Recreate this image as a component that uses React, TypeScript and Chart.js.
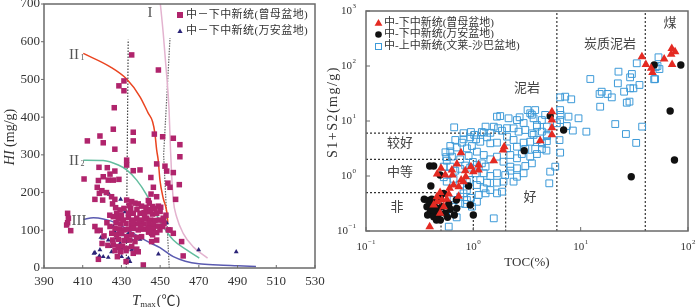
import React, { useEffect, useRef } from "react";
import { Chart, registerables } from "chart.js";
Chart.register(...registerables);

// ---------------- Left panel data (Tmax, HI) ----------------
const X_TICKS_L = [390, 410, 430, 450, 470, 490, 510, 530];
const Y_TICKS_L = [0, 100, 200, 300, 400, 500, 600, 700];

const ZENGMU_TMAX_HI: [number, number][] = [
  [435.3,565],[449.1,525],[431.3,496],[428.7,483],[431.3,470],[426.3,425],[425.8,368],[436.1,360],[447.0,355],[451.3,348],
  [456.8,344],[412.4,337],[418.9,350],[420.6,332],[436.1,337],[426.6,315],[460.2,327],[460.2,295],[432.7,286],[432.7,273],
  [452.5,270],[448.2,276],[418.4,267],[422.7,266],[439.6,260],[436.1,258],[426.6,257],[453.4,257],[456.8,253],[410.7,236],
  [424.1,249],[420.6,242],[418.1,232],[423.2,233],[425.8,233],[428.7,235],[445.2,240],[454.0,225],[455.1,214],[459.9,221],
  [417.5,214],[419.9,205],[422.3,200],[416.3,182],[418.6,198],[420.3,180],[426.6,182],[425.4,170],[424.9,189],[458.0,182],
  [446.5,214],[445.3,196],[448.2,189],[443.9,179],
  [432.7,180],[435.3,176],[437.0,172],[438.7,170],[440.4,164],[442.7,161],[444.4,172],[446.1,163],[447.3,158],[449.1,164],
  [450.3,161],[434.8,158],[431.3,158],[429.3,154],[427.5,145],[433.6,145],[436.1,145],[439.6,145],[441.7,147],[443.9,149],
  [446.1,143],[448.2,145],[425.8,136],[428.4,132],[431.0,127],[433.6,134],[435.3,127],[437.9,132],[440.4,127],[443.0,132],
  [445.1,127],[447.3,126],[449.6,127],[451.6,132],[427.2,120],[429.6,117],[432.4,118],[435.3,114],[437.5,117],[439.2,120],
  [441.7,117],[444.2,118],[446.5,114],[449.1,111],[451.3,110],[424.1,110],[426.7,105],[428.9,103],[431.3,101],[433.6,103],
  [436.1,105],[438.7,101],[441.3,103],[443.9,105],[446.5,103],[449.9,101],[455.1,101],[425.0,92],[427.5,88],[430.1,92],
  [432.7,83],[435.3,88],[437.9,81],[440.4,83],[445.6,92],[448.2,94],[456.8,92],[425.5,74],[428.4,76],[431.3,73],
  [434.1,74],[437.0,70],[445.6,70],[417.5,99],[425.8,61],[428.4,57],[430.6,58],[432.7,52],[435.3,57],[437.9,50],
  [426.7,46],[429.6,43],[432.4,46],[436.1,39],[438.7,43],[427.9,30],[418.1,23],[432.4,17],[441.3,8],[461.1,70],
  [461.9,32],[416.3,110],[402.2,145],[402.6,132],[402.2,120],[401.7,114],[403.8,99],[454.2,101],[448.2,74],[446.1,88],
  [422.5,120],[424,140],[419,100],[421,85],[423,60],[420,65],[434,165],[438,155],[442,140],[445,155],
  [430,140],[436,120],[440,110],[444,95],[427,160],[450,150],[452,118],[453,140]
];

const WANAN_TMAX_HI: [number, number][] = [
  [422,198],[423.7,195],[429.6,182],[415.8,39],[418.9,48],[418.6,32],[420.6,30],[423.2,28],[419.4,81],[423.2,74],
  [424.1,57],[424.9,43],[425.8,110],[426.6,96],[427.5,79],[429.3,65],[430.1,52],[431,88],[431.8,101],[433.6,92],
  [432.7,70],[434.4,57],[435.3,48],[431.8,149],[430.6,127],[436.1,52],[439.6,76],[449.1,37],[453.4,120],[469.9,48],
  [489.3,43],[425.8,74],[428,52],[430.1,30],[428.3,92],[425.5,61],[435.3,74],[433.6,26],[434.4,17],[420.3,79],[416.3,41]
];

// kerogen type curves
const CURVE_I: [number, number][] = [[449.9,711],[451.6,622],[453,534],[454.6,420],[455.3,320],[455.9,251],[456.8,180],[458.5,136],[461.9,92],[467.1,56],[474.5,26]];
const CURVE_II1: [number, number][] = [[410.3,569],[424,534],[432.7,501],[439.6,454],[443.9,410],[446.1,388],[447.3,357],[448.2,313],[449,286],[449.9,233],[451.6,185],[453.4,150],[454,120]];
const CURVE_II2: [number, number][] = [[410.3,286],[420.6,285],[428.4,273],[432.7,260],[437.9,233],[443,194],[447.3,149],[451.6,110],[456.8,74],[463.7,48],[470.2,26]];
const CURVE_III: [number, number][] = [[410.3,129],[415.5,133],[420.6,130],[427.5,119],[432.7,103],[439.6,81],[445.6,65],[449.9,54],[456.8,30],[463,18],[470,11],[480,8],[490,6],[499.5,4]];
const MATURITY_1: [number, number][] = [[432.5,0],[433.5,605]];
const MATURITY_2: [number, number][] = [[454.7,0],[451.8,300],[455.1,610]];

// ---------------- Right panel data (TOC, S1+S2) ----------------
const X_EXP_R = [-1, 0, 1, 2];
const Y_EXP_R = [-1, 0, 1, 2, 3];
const TOC_CLASS = [0.5, 1, 2];
const S_CLASS = [0.5, 2, 6];
const LITHO_TOC = [6, 40];

const ZENGMU_TOC_S: [number, number][] = [
  [37.2,148],[40.5,107],[45.4,91],[46.7,76],[60,134],[70.6,209],[75.8,182],[69.7,163],[71.1,107],
  [5.4,14.8],[5.4,10.4],[5.4,7.57],[5.4,5.65],[4.2,4.38],[1.94,3.41],[1.89,2.97],[1.55,1.9],[1.12,1.59],[1.12,1.29],
  [1.0,1.2],[0.95,1.48],[0.767,2.66],[0.703,1.65],[0.632,1.29],[0.5,1.38],[0.46,1.09],[0.548,1.04],[0.638,1.04],[0.841,1.25],
  [0.85,0.97],[0.81,0.79],[0.77,0.845],[0.654,0.686],[0.601,0.597],[0.73,0.64],[0.49,0.5],[0.458,0.42],[0.51,0.366],[0.565,0.377],
  [0.458,0.34],[0.427,0.297],[0.53,0.277],[0.49,0.21],[0.392,0.12],[0.59,0.47],[0.73,0.43]
];

const WANAN_TOC_S: [number, number][] = [
  [48.4,104],[85.7,104],[68.2,15.2],[74.8,1.95],[29.6,0.97],[6.94,6.86],[5.2,12.3],[2.98,2.89],[0.904,0.658],[0.935,0.297],
  [1.0,0.195],[0.392,1.52],[0.427,1.52],[0.402,0.66],[0.349,0.377],[0.41,0.377],[0.37,0.277],[0.41,0.297],[0.458,0.258],[0.397,0.225],
  [0.375,0.195],[0.427,0.182],[0.472,0.204],[0.51,0.277],[0.493,0.158],[0.453,0.158],[0.59,0.31],[0.548,0.21],[0.61,0.248],[0.70,0.258],
  [0.575,0.177],[0.665,0.195],[0.695,0.366],[0.53,0.484],[0.493,0.42],[0.382,0.36],[0.44,0.34],[0.462,0.21],[0.42,0.24],[0.49,1.04]
];

const BRUNEI_TOC_S: [number, number][] = [
  [53.1,144],[54.2,88],[48.4,57.3],[33.3,112],[30,71.6],[28.9,62.2],[35.3,45.2],[31,39.3],[28.9,39.3],[25.4,34.1],
  [28.5,22.5],[26.9,21.5],[22.5,78.9],[22.2,48.4],[12.3,58],[15,31],[15.7,34.1],[17.8,31],[19.5,26.9],[15.2,18.2],
  [21,8.8],[26.4,5.8],[37.4,7.9],[32.9,4.0],[11.3,6.4],[6.44,26.9],[7.18,27.7],[8.17,24.8],[6.44,15.8],[6.5,12.9],
  [7.7,12],[9.55,11.2],[8.45,6.7],[7.43,8.1],[6.44,10.4],[6.0,9.1],[6.35,4.5],[6.44,2.66],[5.8,1.48],[5.2,1.2],
  [5.1,0.736],[49.4,58],[50,95],[52,100],
  [3.39,13.8],[3.77,15.8],[3.64,11.2],[4.35,10.4],[4.67,12.9],[4.35,6.4],[4.84,7.9],[3.91,8.45],[3.51,5.97],[3.05,6.86],
  [2.64,6.4],[2.37,4.52],[2.06,5.19],[1.78,12.3],[2.13,11.2],[2.37,7.36],[1.85,6.66],[1.55,7.88],[1.34,5.05],[1.25,6.14],
  [1.06,4.64],[0.935,5.05],[0.81,4.64],[0.663,7.67],[0.679,4.52],[0.61,3.51],[0.783,4.04],[0.871,3.18],[0.97,3.51],[1.16,4.2],
  [1.44,3.93],[1.66,4.04],[2.06,3.18],[2.55,3.41],[2.94,4.04],[3.39,4.2],[3.91,4.52],[4.35,3.93],[4.84,5.56],
  [2.21,2.41],[2.55,2.1],[2.83,2.51],[3.39,2.25],[3.91,2.51],[3.51,1.7],[3.05,1.52],[2.55,1.38],[2.21,1.48],[1.91,1.82],
  [1.66,2.25],[1.44,2.01],[1.25,2.41],[1.08,2.77],[0.904,2.31],[0.755,2.01],[0.632,2.25],[0.565,1.9],[0.53,1.48],[0.61,1.48],
  [0.679,1.25],[1.25,1.12],[1.44,1.0],[1.66,1.12],[1.98,1.04],[2.21,1.25],[2.55,0.97],[2.94,1.12],[1.66,0.757],[1.91,0.79],
  [2.37,0.79],[1.34,0.757],[1.16,0.845],[1.08,0.686],[1.25,0.597],[1.44,0.556],[1.85,0.519],[1.66,0.484],[1.3,0.484],[1.12,0.452],
  [0.871,0.556],[0.81,0.484],[0.755,0.42],[0.871,0.366],[0.755,0.318],[0.654,0.366],[0.632,0.297],[0.565,0.258],[0.645,0.21],[0.70,0.177],
  [0.59,0.12],[1.55,0.17],[0.84,0.31],[0.95,0.40],[1.08,0.34],[0.97,0.277],[0.87,0.79],[0.565,0.79],[0.654,0.89],[0.755,0.70],
  [0.53,0.95],[0.59,1.10],[0.755,1.35],[0.84,1.55],[0.935,1.42],[0.99,1.8],[0.61,2.8],[0.70,3.3],[0.56,2.2],[0.55,2.7],
  [0.81,6.0],[0.95,6.3],[1.02,5.6],[1.20,6.3],[1.30,7.9],[1.44,6.1],[1.70,7.4],[2.06,7.4],[1.66,12],[2.55,10.4],
  [2.70,11.7],[2.94,9.2],[3.2,15.8],[3.51,13],[3.91,7.9],[4.84,5.3],[4.84,4.3],[4.8,2.9],[4.35,3.1],[3.77,3.1],
  [3.05,3.1],[3.64,5.6],[1.08,1.6],[1.2,1.7],[1.3,1.48],[0.92,0.85],[1.05,1.12]
];

const LEGEND_L = ["中－下中新统(曾母盆地)", "中－下中新统(万安盆地)"];
const LEGEND_R = ["中-下中新统(曾母盆地)", "中-下中新统(万安盆地)", "中-上中新统(文莱-沙巴盆地)"];

const SERIF = '"Liberation Serif","Times New Roman","Noto Sans CJK SC",serif';

const C_PINK = "#b0246c";
const C_NAVY = "#2b2478";
const C_RED = "#e42a22";
const C_BLACK = "#111111";
const C_BLUE = "#3d9ad8";

const toXY = (arr: [number, number][]) => arr.map(([x, y]) => ({ x, y }));

function triangle(ctx: CanvasRenderingContext2D, x: number, y: number, r: number, color: string) {
  ctx.beginPath();
  ctx.moveTo(x, y - r);
  ctx.lineTo(x + r * 0.87, y + r * 0.5);
  ctx.lineTo(x - r * 0.87, y + r * 0.5);
  ctx.closePath();
  ctx.fillStyle = color;
  ctx.fill();
}

const leftDecor = {
  id: "leftDecor",
  afterDraw(chart: any) {
    const { ctx, chartArea: a, scales } = chart;
    const x = scales.x, y = scales.y;
    ctx.save();
    ctx.strokeStyle = "#6a6a6a";
    ctx.lineWidth = 1.5;
    ctx.strokeRect(a.left, a.top, a.right - a.left, a.bottom - a.top);
    ctx.lineWidth = 1;
    ctx.fillStyle = "#333";
    ctx.font = `13px ${SERIF}`;
    ctx.textAlign = "center";
    ctx.textBaseline = "middle";
    for (const v of X_TICKS_L) {
      const px = x.getPixelForValue(v);
      ctx.beginPath(); ctx.moveTo(px, a.bottom); ctx.lineTo(px, a.bottom - 3); ctx.stroke();
      ctx.fillText(String(v), px, a.bottom + 14);
    }
    ctx.textAlign = "right";
    for (const v of Y_TICKS_L) {
      const py = y.getPixelForValue(v);
      ctx.beginPath(); ctx.moveTo(a.left - 3, py); ctx.lineTo(a.left, py); ctx.stroke();
      ctx.fillText(String(v), a.left - 4, py);
    }
    // y title
    ctx.save();
    ctx.translate(10, 137);
    ctx.rotate(-Math.PI / 2);
    ctx.font = `italic 14px ${SERIF}`;
    const w1 = ctx.measureText("HI").width;
    ctx.font = `14px ${SERIF}`;
    const w2 = ctx.measureText(" (mg/g)").width;
    const sx = -(w1 + w2) / 2;
    ctx.textAlign = "left";
    ctx.font = `italic 14px ${SERIF}`;
    ctx.fillText("HI", sx, 0);
    ctx.font = `14px ${SERIF}`;
    ctx.fillText(" (mg/g)", sx + w1, 0);
    ctx.restore();
    // x title
    ctx.textAlign = "left";
    ctx.textBaseline = "alphabetic";
    let tx = 132;
    ctx.font = `italic 15px ${SERIF}`;
    ctx.fillText("T", tx, 305); tx += ctx.measureText("T").width;
    ctx.font = `9px ${SERIF}`;
    ctx.fillText("max", tx, 307); tx += ctx.measureText("max").width + 1;
    ctx.font = `14px ${SERIF}`;
    ctx.fillText("(℃)", tx, 305);
    // curve labels
    ctx.fillStyle = "#555";
    ctx.font = `15px ${SERIF}`;
    ctx.textBaseline = "middle";
    ctx.textAlign = "center";
    ctx.fillText("I", 150, 13);
    ctx.fillText("II", 74, 55);
    ctx.fillText("II", 74, 161);
    ctx.fillText("III", 79, 221);
    ctx.font = `8px ${SERIF}`;
    ctx.fillText("1", 82.5, 58);
    ctx.fillText("2", 82.5, 164);
    // legend
    ctx.fillStyle = C_PINK;
    ctx.fillRect(177, 12, 6, 6);
    triangle(ctx, 180, 31.5, 3, C_NAVY);
    ctx.fillStyle = "#333";
    ctx.font = `11px ${SERIF}`;
    (ctx as any).letterSpacing = "0.4px";
    ctx.textAlign = "left";
    ctx.fillText(LEGEND_L[0], 186, 15.5);
    ctx.fillText(LEGEND_L[1], 186, 31);
    ctx.restore();
  },
};

function drawPow(ctx: CanvasRenderingContext2D, exp: number, x: number, y: number, align: "center" | "right") {
  const base = "10";
  const sup = exp < 0 ? "−" + Math.abs(exp) : String(exp);
  ctx.font = `11px ${SERIF}`;
  const wb = ctx.measureText(base).width;
  ctx.font = `7px ${SERIF}`;
  const ws = ctx.measureText(sup).width;
  const total = wb + ws + 0.5;
  const left = align === "center" ? x - total / 2 : x - total;
  ctx.textAlign = "left";
  ctx.textBaseline = "middle";
  ctx.font = `11px ${SERIF}`;
  ctx.fillText(base, left, y);
  ctx.font = `7px ${SERIF}`;
  ctx.fillText(sup, left + wb + 0.5, y - 4.5);
}

const rightDecor = {
  id: "rightDecor",
  afterDraw(chart: any) {
    const { ctx, chartArea: a, scales } = chart;
    const x = scales.x, y = scales.y;
    ctx.save();
    ctx.strokeStyle = "#6a6a6a";
    ctx.lineWidth = 1.5;
    ctx.strokeRect(a.left, a.top, a.right - a.left, a.bottom - a.top);
    ctx.lineWidth = 1;
    ctx.fillStyle = "#333";
    for (const e of X_EXP_R) {
      const px = x.getPixelForValue(Math.pow(10, e));
      ctx.beginPath(); ctx.moveTo(px, a.bottom); ctx.lineTo(px, a.bottom - 4); ctx.stroke();
      drawPow(ctx, e, px, a.bottom + 16, "center");
    }
    for (const e of Y_EXP_R) {
      const py = y.getPixelForValue(Math.pow(10, e));
      ctx.beginPath(); ctx.moveTo(a.left, py); ctx.lineTo(a.left + 4, py); ctx.stroke();
      drawPow(ctx, e, a.left - 10, py, "right");
    }
    // titles
    ctx.textAlign = "center";
    ctx.textBaseline = "middle";
    ctx.font = `13px ${SERIF}`;
    ctx.fillText("TOC(%)", (a.left + a.right) / 2, 263);
    ctx.save();
    ctx.translate(13, 112);
    ctx.rotate(-Math.PI / 2);
    ctx.font = `14px ${SERIF}`;
    (ctx as any).letterSpacing = "1.5px";
    ctx.fillText("S1+S2(mg/g)", 0, 0);
    ctx.restore();
    // region labels
    ctx.fillStyle = "#444";
    ctx.font = `13px ${SERIF}`;
    ctx.fillText("较好", 80, 144);
    ctx.fillText("中等", 80, 173);
    ctx.fillText("非", 77, 208);
    ctx.fillText("好", 210, 198);
    ctx.fillText("泥岩", 207, 89);
    ctx.fillText("炭质泥岩", 290, 45);
    ctx.fillText("煤", 350, 24);
    // legend
    triangle(ctx, 58.5, 23.5, 4.5, C_RED);
    ctx.beginPath(); ctx.arc(58.5, 34.5, 3.3, 0, Math.PI * 2); ctx.fillStyle = C_BLACK; ctx.fill();
    ctx.strokeStyle = C_BLUE; ctx.lineWidth = 1;
    ctx.strokeRect(55.5, 43.5, 6, 6);
    ctx.fillStyle = "#333";
    ctx.font = `11px ${SERIF}`;
    ctx.textAlign = "left";
    ctx.fillText(LEGEND_R[0], 64, 23);
    ctx.fillText(LEGEND_R[1], 64, 34.5);
    ctx.fillText(LEGEND_R[2], 64, 46.5);
    ctx.restore();
  },
};

function lineDs(data: [number, number][], color: string, opts: any = {}) {
  return {
    type: "line",
    data: toXY(data),
    borderColor: color,
    backgroundColor: color,
    borderWidth: 1.5,
    pointRadius: 0,
    showLine: true,
    fill: false,
    ...opts,
  };
}

export default function App() {
  const leftRef = useRef<HTMLCanvasElement>(null);
  const rightRef = useRef<HTMLCanvasElement>(null);

  useEffect(() => {
    const left = new Chart(leftRef.current as HTMLCanvasElement, {
      type: "scatter",
      data: {
        datasets: [
          { data: toXY(ZENGMU_TMAX_HI), pointStyle: "rect", pointRadius: 3.9, backgroundColor: C_PINK, borderColor: C_PINK, borderWidth: 0 },
          { data: toXY(WANAN_TMAX_HI), pointStyle: "triangle", pointRadius: 2.8, backgroundColor: C_NAVY, borderColor: C_NAVY, borderWidth: 0 },
          lineDs(CURVE_I, "#e3b3cf", { cubicInterpolationMode: "monotone" }),
          lineDs(CURVE_II1, "#ea4420", { cubicInterpolationMode: "monotone" }),
          lineDs(CURVE_II2, "#62bd9e", { cubicInterpolationMode: "monotone" }),
          lineDs(CURVE_III, "#5a5ab0", { cubicInterpolationMode: "monotone" }),
          lineDs(MATURITY_1, "#444", { borderWidth: 1.2, borderDash: [1.5, 1.5] }),
          lineDs(MATURITY_2, "#666", { borderWidth: 1.2, borderDash: [1.5, 1.2] }),
        ] as any,
      },
      options: {
        animation: false,
        responsive: false,
        maintainAspectRatio: false,
        layout: { padding: { left: 44, right: 25, top: 4, bottom: 39 } },
        scales: {
          x: { type: "linear", min: 390, max: 530, display: false },
          y: { type: "linear", min: 0, max: 700, display: false },
        },
        plugins: { legend: { display: false }, tooltip: { enabled: false } },
      },
      plugins: [leftDecor],
    });

    const dashed = { borderWidth: 1.2, borderDash: [2, 2], borderColor: "#333" };
    const classLines = TOC_CLASS.map((t, i) =>
      lineDs([[0.1, S_CLASS[i]], [t, S_CLASS[i]], [t, 0.1]], "#333", dashed)
    );
    const lithoLines = LITHO_TOC.map((t) => lineDs([[t, 0.1], [t, 1000]], "#333", dashed));

    const right = new Chart(rightRef.current as HTMLCanvasElement, {
      type: "scatter",
      data: {
        datasets: [
          { data: toXY(ZENGMU_TOC_S), pointStyle: "triangle", pointRadius: 5, backgroundColor: C_RED, borderColor: C_RED, borderWidth: 0 },
          { data: toXY(WANAN_TOC_S), pointStyle: "circle", pointRadius: 3.7, backgroundColor: C_BLACK, borderColor: C_BLACK, borderWidth: 0 },
          { data: toXY(BRUNEI_TOC_S), pointStyle: "rect", pointRadius: 4.8, backgroundColor: "rgba(255,255,255,0)", borderColor: C_BLUE, borderWidth: 1 },
          ...classLines,
          ...lithoLines,
        ] as any,
      },
      options: {
        animation: false,
        responsive: false,
        maintainAspectRatio: false,
        layout: { padding: { left: 46, right: 12, top: 11, bottom: 76 } },
        scales: {
          x: { type: "logarithmic", min: 0.1, max: 100, display: false },
          y: { type: "logarithmic", min: 0.1, max: 1000, display: false },
        },
        plugins: { legend: { display: false }, tooltip: { enabled: false } },
      },
      plugins: [rightDecor],
    });

    return () => {
      left.destroy();
      right.destroy();
    };
  }, []);

  return (
    <div style={{ position: "fixed", left: 0, top: 0, width: 700, height: 307, background: "#fff", overflow: "hidden" }}>
      <canvas ref={leftRef} width={340} height={307} style={{ position: "absolute", left: 0, top: 0, width: 340, height: 307 }} />
      <canvas ref={rightRef} width={380} height={307} style={{ position: "absolute", left: 320, top: 0, width: 380, height: 307 }} />
    </div>
  );
}
